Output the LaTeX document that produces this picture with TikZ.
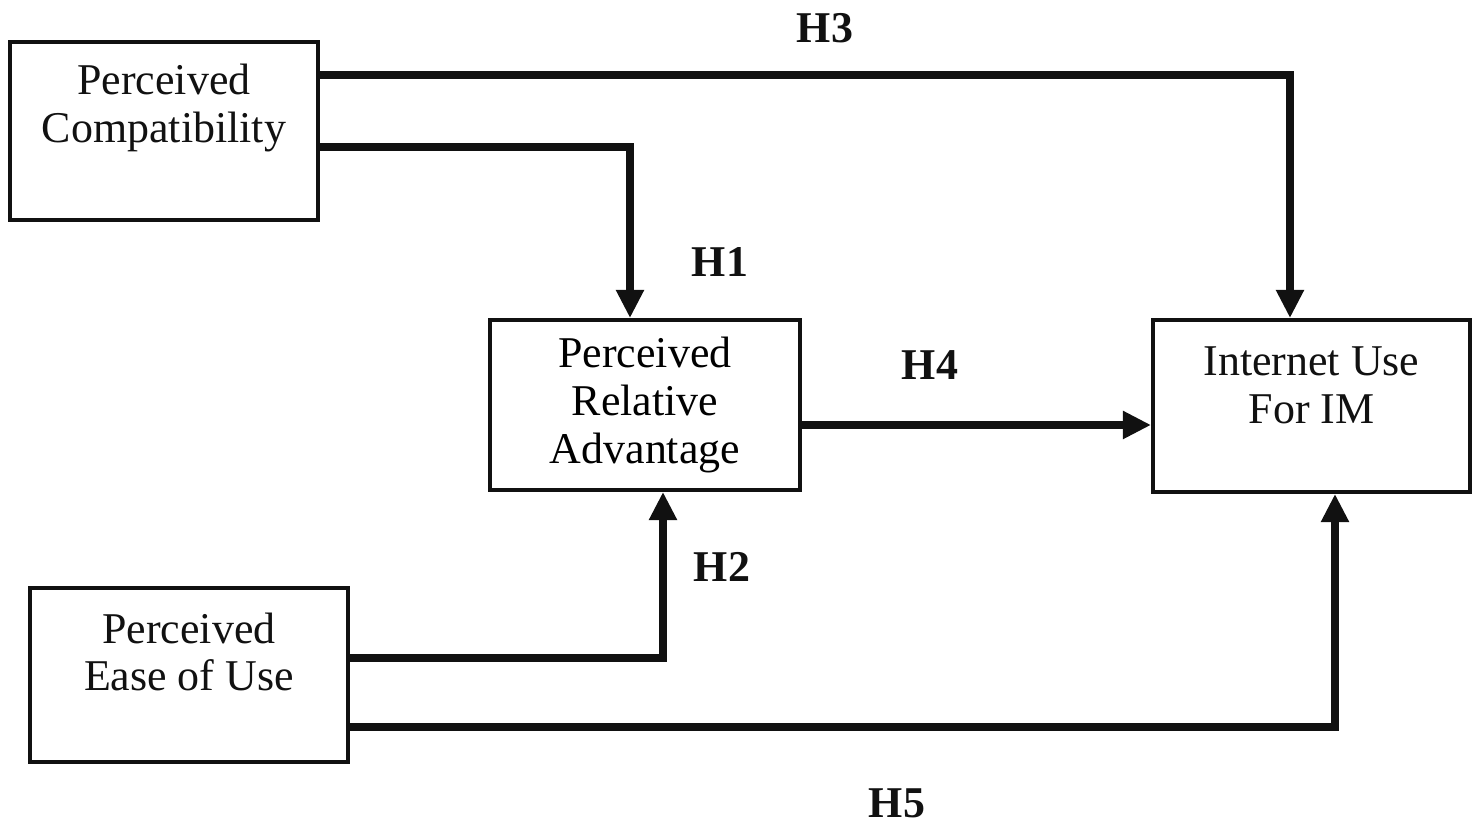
\documentclass[tikz,border=0pt]{standalone}
\usepackage{fontspec}
\setmainfont{Liberation Serif}
\usepackage{tikz}
\usetikzlibrary{arrows.meta,positioning}
\usepackage{xcolor}
\definecolor{ink}{HTML}{111111}

\begin{document}
\begin{tikzpicture}[>={Triangle[length=8pt,width=7.5pt]},
  box/.style={draw=ink, line width=1.1pt, minimum width=#1, minimum height=1.74cm,
    font=\fontsize{12.5}{13.6}\selectfont, align=center},
  boxtext/.style={align=center, font=\fontsize{12.5}{13.6}\selectfont, text=ink},
  flow/.style={->, ink, line width=2.3pt},
  hyp/.style={font=\bfseries\fontsize{12.5}{14}\selectfont, text=ink}]
  \useasboundingbox (0,0) rectangle (14.8,8.23);
  \fill[white] (0,0) rectangle (14.8,8.23);
  % boxes
  \node[box=3.08cm, minimum height=1.78cm,
    label={[boxtext, yshift=0.23cm]center:Perceived\\Compatibility}] (comp) at (1.64,6.92) {};
  \node[box=3.10cm, minimum height=1.70cm] (rel) at (6.45,4.18) {Perceived\\Relative\\Advantage};
  \node[box=3.17cm, minimum height=1.72cm,
    label={[boxtext, yshift=0.21cm]center:Internet Use\\For IM}] (inet) at (13.115,4.17) {};
  \node[box=3.18cm,
    label={[boxtext, yshift=0.23cm]center:Perceived\\Ease of Use}] (ease) at (1.89,1.48) {};
  % paths
  \draw[flow] ([yshift=0.56cm]comp.east) -| ([xshift=-0.215cm]inet.north);
  \draw[flow] ([yshift=-0.16cm]comp.east) -| ([xshift=-0.15cm]rel.north);
  \draw[flow] ([yshift=-0.20cm]rel.east) -- ([yshift=-0.19cm]inet.west);
  \draw[flow] ([yshift=0.17cm]ease.east) -| ([xshift=0.18cm]rel.south);
  \draw[flow] ([yshift=-0.52cm]ease.east) -| ([xshift=0.235cm]inet.south);
  % hypotheses
  \node[hyp] (h3) at (8.25,7.95) {H3};
  \node[hyp] (h1) at (7.20,5.61) {H1};
  \node[hyp] (h4) at (9.30,4.58) {H4};
  \node[hyp] (h2) at (7.22,2.56) {H2};
  \node[hyp] (h5) at (8.97,0.20) {H5};
\end{tikzpicture}
\end{document}
